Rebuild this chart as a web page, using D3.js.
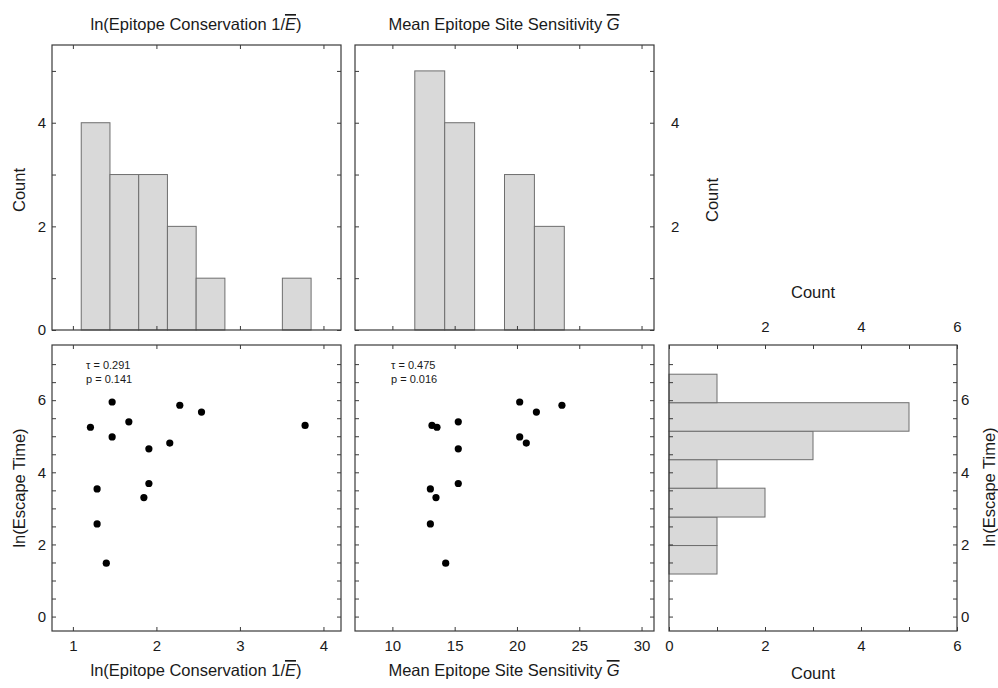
<!DOCTYPE html>
<html>
<head>
<meta charset="utf-8">
<script src="https://cdn.jsdelivr.net/npm/d3@7"></script>
<style>
  body { margin: 0; background: #fff; }
  text { font-family: "Liberation Sans", Arial, sans-serif; fill: #1a1a1a; }
</style>
</head>
<body>
<script>

// one value per epitope
var lnConservation  = [1.21, 1.47, 1.47, 1.67, 1.29, 1.29, 1.40, 1.91, 1.91, 1.85, 2.16, 2.28, 2.54, 3.78];
var siteSensitivity = [13.58, 20.22, 20.22, 15.29, 13.05, 13.05, 14.28, 15.29, 15.29, 13.50, 20.75, 23.61, 21.56, 13.18];
var lnEscape        = [5.25, 5.95, 4.98, 5.40, 3.54, 2.57, 1.48, 4.65, 3.69, 3.30, 4.81, 5.86, 5.67, 5.30];

// histogram bin edges
var conservationBins = [1.10, 1.444, 1.788, 2.132, 2.476, 2.82, 3.164, 3.508, 3.852];
var sensitivityBins  = [11.8, 14.2, 16.6, 19.0, 21.4, 23.8];
var escapeBins       = [1.18, 1.97, 2.76, 3.56, 4.35, 5.14, 5.93, 6.72];

// Kendall tau annotations
var statsConservation = ["\u03c4 = 0.291", "p = 0.141"];
var statsSensitivity  = ["\u03c4 = 0.475", "p = 0.016"];

// tick values
var consTicks   = [1, 2, 3, 4];
var sensTicks   = [10, 15, 20, 25, 30];
var countTicks  = [0, 1, 2, 3, 4, 5];
var countLabels = [0, 2, 4];
var escTicks    = d3.range(0, 7.01, 0.5);
var escLabels   = [0, 2, 4, 6];
var rightTicks  = [0, 1, 2, 3, 4, 5, 6];
var rightLabels = [0, 2, 4, 6];

var W = 998, H = 688;
var frameColor = "#3a3a3a";
var barFill = "#d9d9d9", barStroke = "#6e6e6e";
var labelSize = "16.5px", tickSize = "15px";

var svg = d3.select("body").append("svg")
    .attr("width", W)
    .attr("height", H);

var xCons  = d3.scaleLinear().domain([0.75, 4.21]).range([52, 341]);
var xSens  = d3.scaleLinear().domain([7, 31]).range([355, 654]);
var yCount = d3.scaleLinear().domain([0, 5.5]).range([330, 45]);
var yEsc   = d3.scaleLinear().domain([-0.4, 7.53]).range([631, 345]);
var xRight = d3.scaleLinear().domain([0, 6]).range([669, 957]);

function bins(values, edges) {
    return d3.bin()
        .domain([edges[0], edges[edges.length - 1]])
        .thresholds(edges.slice(1, -1))(values)
        .filter(function(b) { return b.length > 0; });
}

// tick marks pointing into the frame, no labels
function ticks(axisFn, scale, vals, translate) {
    var g = svg.append("g")
        .attr("transform", "translate(" + translate[0] + "," + translate[1] + ")")
        .call(axisFn(scale).tickValues(vals).tickSize(4).tickFormat(""));
    g.select(".domain").remove();
    g.selectAll(".tick line").attr("stroke", frameColor);
}

function labels(axisFn, scale, vals, translate, pad) {
    var g = svg.append("g")
        .attr("transform", "translate(" + translate[0] + "," + translate[1] + ")")
        .call(axisFn(scale).tickValues(vals).tickSize(0).tickPadding(pad).tickFormat(d3.format("d")));
    g.select(".domain").remove();
    g.selectAll("text").style("font-size", tickSize).attr("fill", "#1a1a1a")
        .style("font-family", "'Liberation Sans', Arial, sans-serif");
    return g;
}

function frame(x0, x1, y0, y1) {
    svg.append("rect")
        .attr("x", x0).attr("y", y0)
        .attr("width", x1 - x0).attr("height", y1 - y0)
        .attr("fill", "none")
        .attr("stroke", frameColor)
        .attr("stroke-width", 1.2);
}

function vbars(data, edges, x) {
    svg.append("g").selectAll("rect")
        .data(bins(data, edges))
        .enter().append("rect")
            .attr("x", function(d) { return x(d.x0); })
            .attr("width", function(d) { return x(d.x1) - x(d.x0); })
            .attr("y", function(d) { return yCount(d.length); })
            .attr("height", function(d) { return yCount(0) - yCount(d.length); })
            .attr("fill", barFill)
            .attr("stroke", barStroke);
}

function dots(xs, x) {
    svg.append("g").selectAll("circle")
        .data(xs.map(function(v, i) { return [v, lnEscape[i]]; }))
        .enter().append("circle")
            .attr("cx", function(d) { return x(d[0]); })
            .attr("cy", function(d) { return yEsc(d[1]); })
            .attr("r", 3.6)
            .attr("fill", "#000");
}

function stats(lines, x) {
    svg.append("text")
        .attr("x", x).attr("y", 369)
        .style("font-size", "11px")
        .selectAll("tspan").data(lines).enter().append("tspan")
            .attr("x", x)
            .attr("dy", function(d, i) { return i ? 14 : 0; })
            .text(function(d) { return d; });
}

// label with an overlined italic symbol
function overTitle(x, y, pre, sym, post) {
    var t = svg.append("text")
        .attr("x", x).attr("y", y)
        .attr("text-anchor", "middle")
        .style("font-size", labelSize);
    t.append("tspan").text(pre);
    t.append("tspan").style("font-style", "italic").style("text-decoration", "overline").text(sym);
    t.append("tspan").text(post);
    return t;
}

function plainText(x, y, s, rot) {
    svg.append("text")
        .attr("transform", "translate(" + x + "," + y + ")" + (rot ? " rotate(" + rot + ")" : ""))
        .attr("text-anchor", "middle")
        .style("font-size", labelSize)
        .text(s);
}

// ---- top left: conservation histogram
vbars(lnConservation, conservationBins, xCons);
ticks(d3.axisTop, xCons, consTicks, [0, 330]);
ticks(d3.axisBottom, xCons, consTicks, [0, 45]);
ticks(d3.axisRight, yCount, countTicks, [52, 0]);
ticks(d3.axisLeft, yCount, countTicks, [341, 0]);
labels(d3.axisLeft, yCount, countLabels, [52, 0], 6);
frame(52, 341, 45, 330);
overTitle(196, 30, "ln(Epitope Conservation 1/", "E", ")");
plainText(25, 190, "Count", -90);

// ---- top middle: sensitivity histogram
vbars(siteSensitivity, sensitivityBins, xSens);
ticks(d3.axisTop, xSens, sensTicks, [0, 330]);
ticks(d3.axisBottom, xSens, sensTicks, [0, 45]);
ticks(d3.axisRight, yCount, countTicks, [355, 0]);
ticks(d3.axisLeft, yCount, countTicks, [654, 0]);
labels(d3.axisRight, yCount, [2, 4], [654, 0], 17);
frame(355, 654, 45, 330);
overTitle(504, 30, "Mean Epitope Site Sensitivity ", "G", "");
plainText(718, 200, "Count", -90);

// ---- bottom left: conservation vs escape
dots(lnConservation, xCons);
ticks(d3.axisTop, xCons, consTicks, [0, 631]);
ticks(d3.axisBottom, xCons, consTicks, [0, 345]);
ticks(d3.axisRight, yEsc, escTicks, [52, 0]);
ticks(d3.axisLeft, yEsc, escTicks, [341, 0]);
labels(d3.axisLeft, yEsc, escLabels, [52, 0], 6);
labels(d3.axisBottom, xCons, consTicks, [0, 631], 9);
frame(52, 341, 345, 631);
stats(statsConservation, 86);
overTitle(196, 676, "ln(Epitope Conservation 1/", "E", ")");
plainText(25, 488, "ln(Escape Time)", -90);

// ---- bottom middle: sensitivity vs escape
dots(siteSensitivity, xSens);
ticks(d3.axisTop, xSens, sensTicks, [0, 631]);
ticks(d3.axisBottom, xSens, sensTicks, [0, 345]);
ticks(d3.axisRight, yEsc, escTicks, [355, 0]);
ticks(d3.axisLeft, yEsc, escTicks, [654, 0]);
labels(d3.axisBottom, xSens, sensTicks, [0, 631], 9);
frame(355, 654, 345, 631);
stats(statsSensitivity, 391);
overTitle(504, 676, "Mean Epitope Site Sensitivity ", "G", "");

// ---- bottom right: escape time histogram (horizontal)
svg.append("g").selectAll("rect")
    .data(bins(lnEscape, escapeBins))
    .enter().append("rect")
        .attr("x", xRight(0))
        .attr("width", function(d) { return xRight(d.length) - xRight(0); })
        .attr("y", function(d) { return yEsc(d.x1); })
        .attr("height", function(d) { return yEsc(d.x0) - yEsc(d.x1); })
        .attr("fill", barFill)
        .attr("stroke", barStroke);
ticks(d3.axisTop, xRight, rightTicks, [0, 631]);
ticks(d3.axisBottom, xRight, rightTicks, [0, 345]);
ticks(d3.axisRight, yEsc, escTicks, [669, 0]);
ticks(d3.axisLeft, yEsc, escTicks, [957, 0]);
labels(d3.axisBottom, xRight, rightLabels, [0, 631], 9);
labels(d3.axisTop, xRight, [2, 4, 6], [0, 345], 13);
labels(d3.axisRight, yEsc, escLabels, [957, 0], 4);
frame(669, 957, 345, 631);
plainText(813, 298, "Count");
plainText(813, 679, "Count");
plainText(995, 487, "ln(Escape Time)", -90);

</script>
</body>
</html>
